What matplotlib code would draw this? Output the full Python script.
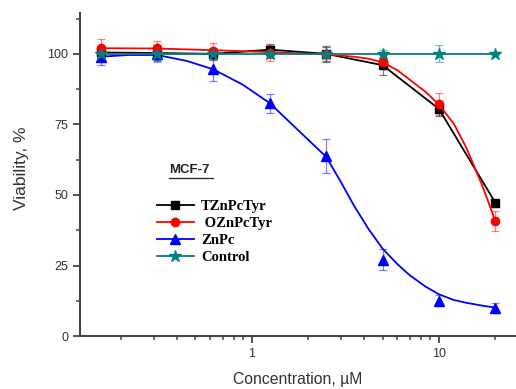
import matplotlib
matplotlib.use("Agg")
import matplotlib.pyplot as plt
from matplotlib.lines import Line2D
import numpy as np

# concentrations (uM)
conc = [0.156, 0.3125, 0.625, 1.25, 2.5, 5, 10, 20]

tznpc = [100.5, 100.3, 100.0, 101.5, 100.0, 96.0, 80.5, 47.3]
tznpc_err = [2.0, 2.5, 2.0, 2.0, 2.8, 3.5, 2.5, 0.0]

oznpc = [102.0, 102.0, 101.0, 100.3, 100.0, 97.0, 82.3, 40.8]
oznpc_err = [3.3, 2.5, 2.8, 3.0, 2.5, 2.5, 3.8, 3.5]

znpc = [99.0, 100.0, 94.5, 82.5, 63.8, 27.0, 12.5, 10.0]
znpc_err = [3.0, 2.5, 4.2, 3.3, 6.0, 3.7, 2.0, 1.7]

control = [100, 100, 100, 100, 100, 100, 100, 100]
control_err = [1.5, 3.0, 1.5, 1.5, 2.5, 1.5, 3.0, 0.5]

# fitted curves
oz_fit_x = [0.156, 0.3125, 0.625, 1.25, 2.5, 3.5, 4.2, 5, 6, 7, 8.5, 10, 12, 14, 17, 20]
oz_fit_y = [102.0, 101.9, 101.3, 100.6, 99.8, 99.0, 98.3, 97.0, 94.2, 90.8, 86.5, 82.0, 75.3, 66.8, 53.5, 40.8]

zn_fit_x = [0.156, 0.22, 0.3125, 0.45, 0.625, 0.9, 1.25, 1.8, 2.5, 3.0, 3.5, 4.2, 5, 6, 7, 8.5, 10, 12, 14, 17, 20]
zn_fit_y = [99.0, 99.6, 99.6, 97.5, 94.5, 89.0, 82.5, 72.5, 63.5, 54.5, 46.5, 38.0, 31.0, 25.5, 21.5, 17.5, 14.8, 12.8, 11.8, 10.8, 10.1]

yticks = [0, 25, 50, 75, 100]

black = "#000000"
red = "#ff0000"
blue = "#0000ff"
teal = "#008080"

fig = plt.figure(figsize=(5.16, 3.89), dpi=100)
ax = fig.add_axes([0.155, 0.136, 0.845, 0.83])

# error bars
for y, e, c in [(tznpc, tznpc_err, black), (oznpc, oznpc_err, red),
                (znpc, znpc_err, blue), (control, control_err, teal)]:
    ax.errorbar(conc, y, yerr=e, fmt="none", ecolor=c, elinewidth=0.9,
                capsize=3, capthick=0.9, alpha=0.5, zorder=2)

ax.plot(zn_fit_x, zn_fit_y, color=blue, lw=1.3, zorder=3)
ax.plot(conc, znpc, "^", color=blue, ms=7, zorder=3)

ax.plot(conc, tznpc, "-s", color=black, lw=1.3, ms=5.5, zorder=4)

ax.plot(oz_fit_x, oz_fit_y, color=red, lw=1.3, zorder=5)
ax.plot(conc, oznpc, "o", color=red, ms=6, zorder=5)

ax.plot(conc, control, "-*", color=teal, lw=1.3, ms=9, zorder=6)

ax.set_xscale("log")
ax.set_xlim(0.121, 25.8)
ax.set_ylim(0, 114.4)
ax.set_yticks(yticks)
ax.set_yticks(np.arange(12.5, 114, 25), minor=True)
ax.set_xticks([1, 10])
ax.set_xticklabels(["1", "10"])

for s in ["top", "right"]:
    ax.spines[s].set_visible(False)
for s in ["left", "bottom"]:
    ax.spines[s].set_color("#444444")
    ax.spines[s].set_linewidth(1.5)

ax.tick_params(which="major", direction="out", length=5, width=1.3,
               color="#444444", labelsize=9, labelcolor="#333333")
ax.tick_params(which="minor", direction="out", length=3, width=1.1,
               color="#444444")
ax.tick_params(axis="x", which="minor", labelbottom=False)

for lab in ax.get_xticklabels() + ax.get_yticklabels():
    lab.set_family("Liberation Sans")

ax.set_xlabel("Concentration, \u00b5M", family="Liberation Sans",
              fontsize=11.3, color="#333333", labelpad=9)
ax.set_ylabel("Viability, %", family="Liberation Sans",
              fontsize=12.5, color="#333333", labelpad=10)
ax.yaxis.set_label_coords(-0.118, 0.52)

# legend
handles = [
    Line2D([], [], color=black, marker="s", ms=5.5, lw=1.3),
    Line2D([], [], color=red, marker="o", ms=6, lw=1.3),
    Line2D([], [], color=blue, marker="^", ms=7, lw=1.3),
    Line2D([], [], color=teal, marker="*", ms=9, lw=1.3),
]
names = ["TZnPcTyr", " OZnPcTyr", "ZnPc", "Control"]
leg = ax.legend(handles, names, loc="upper left", frameon=False,
                bbox_to_anchor=(0.147, 0.462), handlelength=2.5,
                handletextpad=0.5, labelspacing=0.25,
                prop={"family": "Liberation Serif", "weight": "bold", "size": 10.5})

t = ax.text(0.205, 0.497, "MCF-7", transform=ax.transAxes, family="Liberation Sans",
            fontweight="bold", fontsize=9.5, color="#222222", va="bottom")
ax.plot([0.205, 0.305], [0.489, 0.489], transform=ax.transAxes,
        color="#222222", lw=0.9, clip_on=False)

fig.savefig("out.png", dpi=100)
